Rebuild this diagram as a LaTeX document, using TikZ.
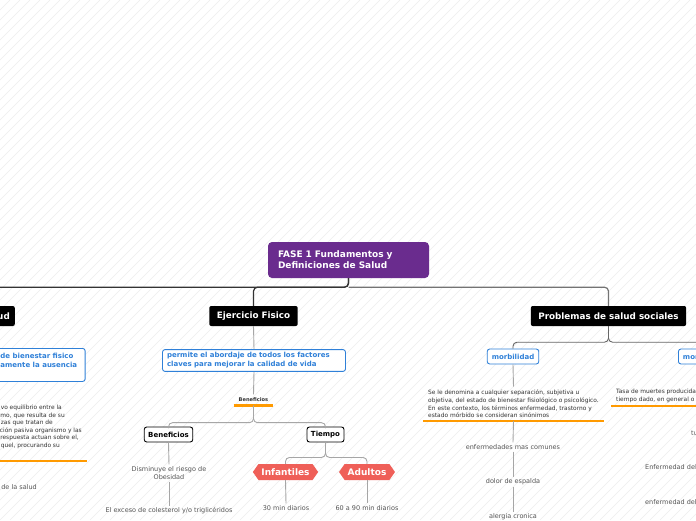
\documentclass[tikz,border=0pt]{standalone}
\usepackage{fontspec}
\setmainfont{DejaVu Sans}
\usetikzlibrary{shapes.symbols}

\definecolor{fasepurple}{HTML}{6A2C8E}
\definecolor{topicblue}{HTML}{2F80D8}
\definecolor{agecoral}{HTML}{EF5F58}
\definecolor{markorange}{HTML}{FF9A00}
\definecolor{leafgray}{HTML}{555555}
\definecolor{desctext}{HTML}{333333}

\begin{document}
\begin{tikzpicture}[x=1pt, y=-1pt,
    hatch/.style={draw=black!7, line width=0.6pt},
    trunk/.style={draw=black!80, line width=1.2pt, rounded corners=4pt},
    trunkgray/.style={draw=black!55, line width=1.2pt, rounded corners=4pt},
    limb/.style={draw=black!60, line width=0.9pt, rounded corners=4pt},
    branch/.style={draw=black!35, line width=0.9pt, rounded corners=4pt},
    orangebar/.style={draw=markorange, line width=2.6pt},
    root/.style={fill=fasepurple, text=white, rounded corners=4pt, align=left,
        font=\fontsize{9}{11}\selectfont\bfseries, text width=141pt,
        minimum height=36pt, inner xsep=10pt},
    topic/.style={fill=black, text=white, rounded corners=2pt,
        font=\fontsize{8.8}{10}\selectfont\bfseries, minimum height=20pt,
        inner xsep=7.5pt},
    bluebox/.style={draw=topicblue, fill=white, text=topicblue, line width=0.9pt,
        rounded corners=2.5pt, align=left, font=\fontsize{7}{9}\selectfont\bfseries,
        minimum height=15pt, inner xsep=4.5pt, inner ysep=3pt},
    subtopic/.style={draw=black, fill=white, line width=0.9pt, rounded corners=2.5pt,
        font=\fontsize{7}{8}\selectfont\bfseries, minimum height=15pt, inner xsep=4pt},
    agebox/.style={signal, signal to=west and east, signal pointer angle=110,
        fill=agecoral, text=white, font=\fontsize{9}{10}\selectfont\bfseries,
        minimum height=16pt, inner xsep=3pt},
    leaf/.style={text=leafgray, font=\fontsize{6.5}{8}\selectfont, align=center,
        inner sep=2pt},
    desc/.style={text=desctext, font=\fontsize{5.9}{7.7}\selectfont, align=left,
        inner xsep=5pt, inner ysep=3pt},
    tag/.style={text=desctext, font=\fontsize{5.1}{6}\selectfont\bfseries,
        inner xsep=5pt, inner ysep=3.5pt},
  ]
  \useasboundingbox (0,0) rectangle (696,520);
  \clip (0,0) rectangle (696,520);
  %
  \fill[white] (0,0) rectangle (696,520);          % background
  \foreach \i in {-520,-510,...,700}
    \draw[hatch] (\i,520) -- ++(520,-520);
  %
  \node[root] (fase) at (348.5,260) {FASE 1 Fundamentos y\\Definiciones de Salud};
  %
  \node[topic, anchor=east, inner xsep=5pt] (salud) at (15,316) {Salud};   % main topics
  \node[topic] (ejercicio) at (253.5,316) {Ejercicio Fisico};
  \node[topic] (problemas) at (608.5,316) {Problemas de salud sociales};
  %
  \draw[trunk] (fase.south) -- ++(0,9) -| (ejercicio.north);
  \draw[trunk] (fase.south) -- ++(0,9) -| (salud.north);
  \draw[trunkgray] (fase.south) ++(0,9) -| (problemas.north);
  %
  % salud (cut at the left edge)
  \node[bluebox, anchor=north west, inner xsep=8pt, minimum height=33pt] (saluddef)
    at (-8,348) {de bienestar fisico\\amente la ausencia\\\mbox{}};
  \node[desc, inner sep=0pt, anchor=east] (equil1) at (62,408) {vo equilibrio entre la};
  \node[desc, inner sep=0pt, anchor=east] (equil2) at (65,416) {mo, que resulta de su};
  \node[desc, inner sep=0pt, anchor=east] (equil3) at (53,423) {zas que tratan de};
  \node[desc, inner sep=0pt, anchor=east] (equil4) at (82,431) {ción pasiva organismo y las};
  \node[desc, inner sep=0pt, anchor=east] (equil5) at (79,438) {respuesta actuan sobre el,};
  \node[desc, inner sep=0pt, anchor=east] (equil6) at (60,446) {quel, procurando su};
  \draw[orangebar] (-10,461) -- (87,461);
  \node[leaf, anchor=east] (saludlast) at (39,487) {de la salud};
  %
  % ejercicio fisico
  \node[bluebox, text width=174pt] (abordaje) at (254,360.5)
    {permite el abordaje de todos los factores\\claves para mejorar la calidad de vida};
  \node[tag] (bentag) at (253.5,400) {Beneficios};
  \node[subtopic] (beneficios) at (168.5,434.5) {Beneficios};
  \node[subtopic] (tiempo) at (325.5,434.5) {Tiempo};
  \node[leaf] (obesidad) at (169,473) {Disminuye el riesgo de\\Obesidad};
  \node[leaf] (colesterol) at (169,511) {El exceso de colesterol y/o triglicéridos};
  \node[agebox] (infantiles) at (285.5,472) {Infantiles};
  \node[agebox] (adultos) at (367,472) {Adultos};
  \node[leaf] (min30) at (286,508) {30 min diarios};
  \node[leaf] (min60) at (367,508) {60 a 90 min diarios};
  %
  \draw[branch] (ejercicio.south) -- (abordaje.north);
  \draw[branch] (abordaje.south) -- (bentag.north);
  \draw[orangebar] (bentag.south west) -- (bentag.south east);
  \draw[branch] (bentag.south) -- ++(0,17) -| (beneficios.north);
  \draw[branch] (bentag.south) -- ++(0,17) -| (tiempo.north);
  \draw[branch] (beneficios.south) -- (obesidad.north);
  \draw[branch] (obesidad.south) -- (colesterol.north);
  \draw[branch] (tiempo.south) -- ++(0,15) -| (infantiles.north);
  \draw[branch] (tiempo.south) -- ++(0,15) -| (adultos.north);
  \draw[branch] (infantiles.south) -- (min30.north);
  \draw[branch] (adultos.south) -- (min60.north);
  %
  % problemas de salud sociales
  \node[bluebox] (morbilidad) at (513,356.5) {morbilidad};
  \node[bluebox, anchor=west] (mortalidad) at (678,356.5) {mortalidad};
  \node[desc, anchor=south] (morbdesc) at (513.5,421)
    {Se le denomina a cualquier separación, subjetiva u\\
     objetiva, del estado de bienestar fisiológico o psicológico.\\
     En este contexto, los términos enfermedad, trastorno y\\
     estado mórbido se consideran sinónimos};
  \node[leaf] (comunes) at (513,447) {enfermedades mas comunes};
  \node[leaf] (espalda) at (513,482) {dolor de espalda};
  \node[leaf] (alergia) at (513,517) {alergia cronica};
  \node[desc, anchor=south west] (mortdesc) at (611,406)
    {Tasa de muertes producidas en una población durante un\\
     tiempo dado, en general o por una causa determinada};
  \node[leaf, anchor=west] (mort1) at (689,433) {tu};
  \node[leaf, anchor=west] (mort2) at (643,467) {Enfermedad del};
  \node[leaf, anchor=west] (mort3) at (643,502) {enfermedad del};
  %
  \draw[limb] (problemas.south) -- ++(0,16) -| (morbilidad.north);
  \draw[limb] (problemas.south) -- ++(0,16) -| (mortalidad.north);
  \draw[branch] (morbilidad.south) -- (morbdesc.north);
  \draw[orangebar] (morbdesc.south west) -- (morbdesc.south east);
  \draw[branch] (morbdesc.south) -- (comunes.north);
  \draw[branch] (comunes.south) -- (espalda.north);
  \draw[branch] (espalda.south) -- (alergia.north);
  \draw[orangebar] (mortdesc.south west) -- (mortdesc.south east);
  %
\end{tikzpicture}
\end{document}
